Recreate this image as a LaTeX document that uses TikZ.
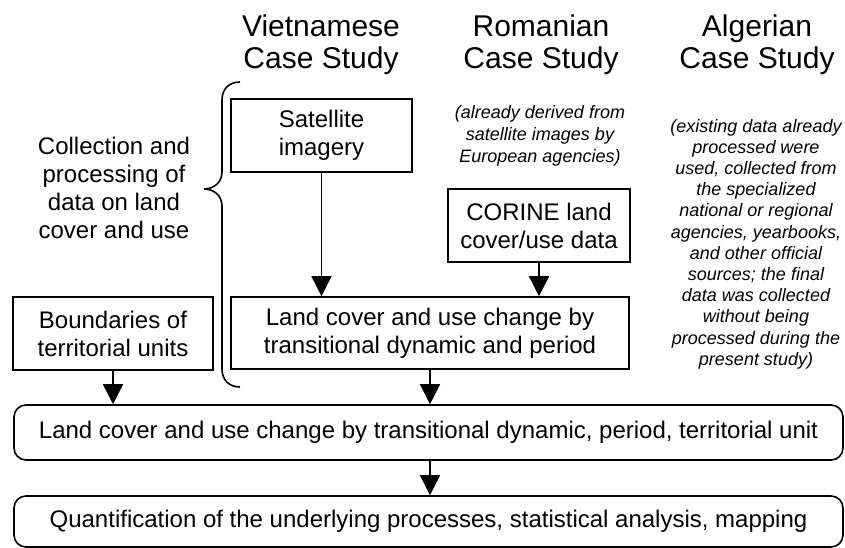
\documentclass[tikz,border=0pt]{standalone}
\usepackage{fontspec}
\setmainfont{Liberation Sans}
\usetikzlibrary{arrows.meta}
\tikzset{myBox/.style={draw, line width=1.6pt, inner sep=0pt, align=center, font=\fontsize{24}{28}\selectfont}}
\tikzset{myRoundBox/.style={myBox, rounded corners=12pt}}
\tikzset{myArrow/.style={line width=1.6pt, -{Triangle[width=20pt,length=20pt]}}}
\tikzset{myHead/.style={align=center, inner sep=0pt, font=\fontsize{30}{31.6}\selectfont}}
\tikzset{myNote/.style={align=center, inner sep=0pt, font=\fontsize{18}{22}\selectfont\itshape}}

\begin{document}
\begin{tikzpicture}[x=1pt,y=-1pt]
	\useasboundingbox (0,0) rectangle (845,548);
	% case study headings
	\node[myHead] (headViet) at (321,44.9) {Vietnamese\\Case Study};
	\node[myHead] (headRom) at (541,44.9) {Romanian\\Case Study};
	\node[myHead] (headAlg) at (757,44.9) {Algerian\\Case Study};

	% left label and brace
	\node[myHead, font=\fontsize{24}{28}\selectfont] (collect) at (114,188.3) {Collection and\\processing of\\data on land\\cover and use};
	\draw[line width=1.6pt] (240,82) .. controls (229,82) and (222,89) .. (222,100) -- (222,172)
		.. controls (222,183) and (213,189) .. (204,189) .. controls (213,189) and (222,195) .. (222,206)
		-- (222,369) .. controls (222,380) and (229,387) .. (240,387);

	% notes
	\node[myNote] (noteRom) at (540,135.4) {(already derived from\\satellite images by\\European agencies)};
	\node[myNote, font=\fontsize{18}{21.2}\selectfont\itshape] (noteAlg) at (756,244) {(existing data already\\processed were\\used, collected from\\the specialized\\national or regional\\agencies, yearbooks,\\and other official\\sources; the final\\data was collected\\without being\\processed during the\\present study)};

	% boxes
	\node[myBox, minimum width=181pt, minimum height=73pt] (sat) at (321.5,135.5) {Satellite\\imagery};
	\node[myBox, minimum width=182pt, minimum height=73pt] (corine) at (539,225.5) {CORINE land\\cover/use data};
	\node[myBox, minimum width=398pt, minimum height=72pt] (change) at (430,333) {Land cover and use change by\\transitional dynamic and period};
	\node[myBox, minimum width=200pt, minimum height=73pt] (bound) at (113,333.5) {Boundaries of\\territorial units};
	\node[myRoundBox, minimum width=829pt, minimum height=55pt] (unit) at (428.5,432.5) {Land cover and use change by transitional dynamic, period, territorial unit};
	\node[myRoundBox, minimum width=829pt, minimum height=51pt] (quant) at (428.5,521.5) {Quantification of the underlying processes, statistical analysis, mapping};

	% arrows
	\draw[myArrow] (sat.south) -- (change.north -| sat.south);
	\draw[myArrow] (corine.south) -- (change.north -| corine.south);
	\draw[myArrow] (bound.south) -- (unit.north -| bound.south);
	\draw[myArrow] (change.south) -- (unit.north -| change.south);
	\draw[myArrow] (unit.south -| change.south) -- (quant.north -| change.south);
\end{tikzpicture}
\end{document}
